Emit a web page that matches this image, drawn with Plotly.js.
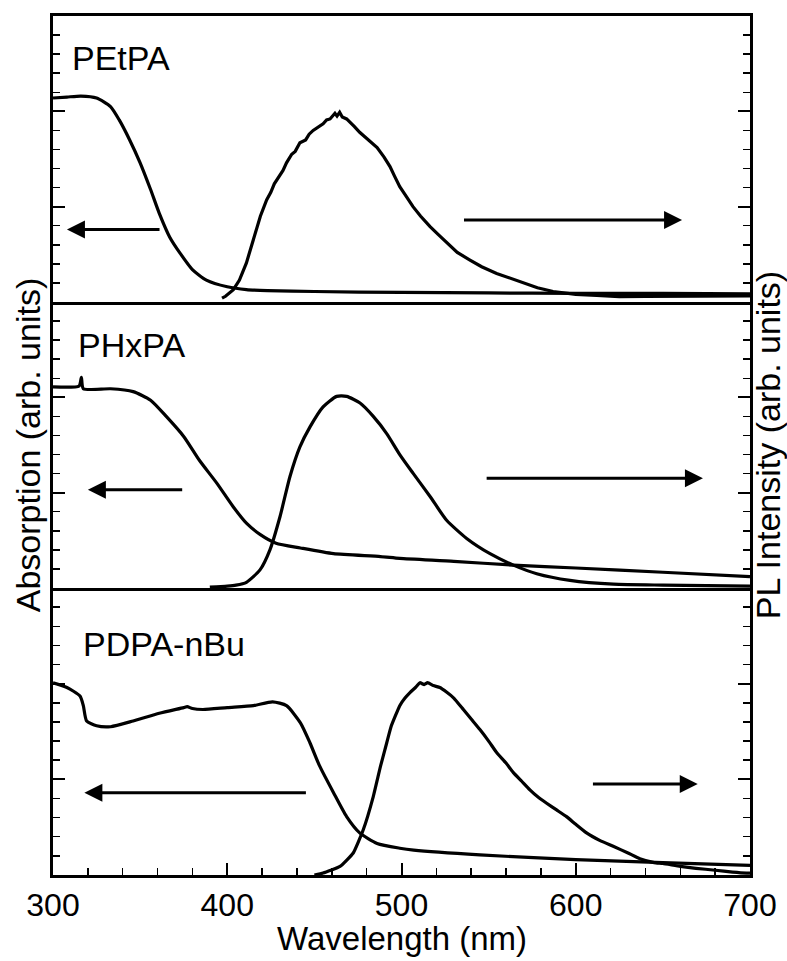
<!DOCTYPE html>
<html>
<head>
<meta charset="utf-8">
<script src="https://cdn.plot.ly/plotly-3.0.1.min.js"></script>
<style>html,body{margin:0;padding:0;background:#fff;}</style>
</head>
<body>
<div id="chart" style="width:787px;height:961px;"></div>
<script>
// ---- Data (wavelength in nm, intensity in arb. units) ----
const panelNames = ['PDPA-nBu', 'PHxPA', 'PEtPA'];
const xTitle = 'Wavelength (nm)';
const leftTitle = 'Absorption (arb. units)';
const rightTitle = 'PL Intensity (arb. units)';

const petpaAbsX = [300, 308, 316, 325, 333, 338, 344, 350, 356, 361, 367, 373, 380, 388, 400, 411, 423, 450, 500, 550, 600, 650, 700];
const petpaAbsY = [2.14, 2.15, 2.16, 2.14, 2.05, 1.91, 1.70, 1.46, 1.18, 0.93, 0.68, 0.51, 0.34, 0.23, 0.16, 0.13, 0.12, 0.11, 0.10, 0.095, 0.09, 0.09, 0.085];

const petpaPlX = [397, 399, 403.5, 407, 411, 415, 419, 422.6, 425, 427, 428.4, 431, 432, 434, 437, 439, 441.7, 445, 447, 449.3, 452, 455, 457, 459, 461.8, 463, 464.5, 466, 468.5, 471, 473, 476, 480, 483, 486, 490, 493.4, 496, 499, 503, 506.6, 511, 516.4, 521, 526, 532, 539.3, 546, 554.6, 562, 570, 578, 587, 600, 612, 625, 640, 660, 680, 700];
const petpaPlY = [0.04, 0.06, 0.13, 0.23, 0.41, 0.65, 0.90, 1.07, 1.15, 1.24, 1.28, 1.34, 1.38, 1.46, 1.55, 1.58, 1.67, 1.70, 1.76, 1.80, 1.83, 1.87, 1.91, 1.92, 1.98, 1.95, 1.99, 1.94, 1.92, 1.88, 1.84, 1.78, 1.72, 1.67, 1.62, 1.52, 1.42, 1.32, 1.21, 1.10, 1.00, 0.90, 0.79, 0.71, 0.62, 0.52, 0.44, 0.37, 0.30, 0.25, 0.20, 0.15, 0.11, 0.08, 0.07, 0.056, 0.06, 0.06, 0.065, 0.065];

const phxpaAbsX = [300, 315, 316.3, 317.4, 333, 346, 356, 365, 375, 384, 394, 403.5, 411, 419, 428, 442, 461, 488, 499, 530, 564, 600, 650, 700];
const phxpaAbsY = [2.11, 2.12, 2.21, 2.09, 2.09, 2.06, 1.97, 1.80, 1.59, 1.34, 1.10, 0.85, 0.68, 0.56, 0.47, 0.42, 0.36, 0.33, 0.31, 0.28, 0.24, 0.21, 0.165, 0.12];

const phxpaPlX = [390, 400, 405, 411, 418.8, 424.5, 430.3, 436, 441.7, 447.5, 455, 462.8, 468.5, 476.2, 483.8, 491.5, 499, 506.8, 516.4, 525.9, 537.4, 550.8, 564.2, 577.6, 596.7, 621.6, 650, 700];
const phxpaPlY = [0.01, 0.02, 0.03, 0.06, 0.19, 0.40, 0.75, 1.17, 1.48, 1.69, 1.90, 2.01, 2.01, 1.94, 1.80, 1.62, 1.40, 1.20, 0.96, 0.71, 0.52, 0.36, 0.24, 0.15, 0.08, 0.04, 0.03, 0.02];

const pdpaAbsX = [300, 308, 315.5, 317.4, 319.3, 325, 333, 346, 361, 375, 377, 380, 386, 400, 415, 426, 434, 442, 447.5, 453, 461, 468.5, 476, 486, 499, 507, 545, 600, 650, 700];
const pdpaAbsY = [2.01, 1.96, 1.87, 1.77, 1.61, 1.56, 1.55, 1.61, 1.69, 1.75, 1.76, 1.74, 1.73, 1.75, 1.77, 1.81, 1.77, 1.59, 1.38, 1.14, 0.86, 0.61, 0.44, 0.33, 0.28, 0.26, 0.21, 0.16, 0.13, 0.10];

const pdpaPlX = [450, 455, 464.7, 472.3, 478, 483.8, 488, 491.5, 494, 499, 502, 505, 508, 510.6, 513, 515, 518.3, 522, 526, 530, 535.5, 540, 545, 550, 554.6, 560, 564.2, 569, 573.7, 578, 583.3, 589, 594.7, 600, 606.2, 614, 621.5, 630, 636.8, 645, 650, 660, 669, 680, 690, 698, 700];
const pdpaPlY = [0.0, 0.02, 0.09, 0.23, 0.47, 0.82, 1.14, 1.38, 1.55, 1.77, 1.85, 1.91, 1.96, 2.01, 1.99, 2.01, 1.98, 1.96, 1.91, 1.85, 1.73, 1.63, 1.52, 1.40, 1.28, 1.17, 1.07, 0.98, 0.89, 0.82, 0.75, 0.68, 0.61, 0.53, 0.44, 0.36, 0.30, 0.23, 0.17, 0.13, 0.12, 0.09, 0.07, 0.05, 0.03, 0.02, 0.02];

// arrows: [tailX, tipX, y] per panel (bottom, middle, top)
const absArrows = [[446, 318, 0.86], [375, 320, 1.03], [362, 308, 0.76]];
const plArrows  = [[609, 670, 0.95], [548, 673, 1.15], [535, 661, 0.86]];
// panel label positions [x, y]
const labelPos = [[316, 2.41], [313, 2.55], [310, 2.56]];

// ---- Build ----
const lineStyle = {color: '#000', width: 3.2};
const traces = [
  {x: pdpaAbsX, y: pdpaAbsY, xaxis: 'x', yaxis: 'y', line: Object.assign({shape: 'spline', smoothing: 0.6}, lineStyle)},
  {x: pdpaPlX, y: pdpaPlY, xaxis: 'x', yaxis: 'y4', line: Object.assign({shape: 'spline', smoothing: 0.4}, lineStyle)},
  {x: phxpaAbsX, y: phxpaAbsY, xaxis: 'x2', yaxis: 'y2', line: Object.assign({shape: 'spline', smoothing: 0.6}, lineStyle)},
  {x: phxpaPlX, y: phxpaPlY, xaxis: 'x2', yaxis: 'y5', line: Object.assign({shape: 'spline', smoothing: 0.6}, lineStyle)},
  {x: petpaAbsX, y: petpaAbsY, xaxis: 'x3', yaxis: 'y3', line: Object.assign({shape: 'spline', smoothing: 0.6}, lineStyle)},
  {x: petpaPlX, y: petpaPlY, xaxis: 'x3', yaxis: 'y6', line: Object.assign({shape: 'linear'}, lineStyle)}
].map(t => Object.assign({type: 'scatter', mode: 'lines', hoverinfo: 'skip'}, t));

const H = 859;
const domains = [[0, 287 / H], [287 / H, 573 / H], [573 / H, 1]];
const AX = '#000';
const AXW = 3;

function yAx(i, side, overlay) {
  const a = {
    domain: domains[i], range: [0, 3], dtick: 1, tick0: 0,
    ticks: 'inside', ticklen: 12, tickwidth: 2, tickcolor: AX,
    showticklabels: false, showline: true, linewidth: AXW, linecolor: AX,
    showgrid: false, zeroline: false, fixedrange: true,
    minor: {dtick: 0.2, ticks: 'inside', ticklen: 7, tickwidth: 1.5, tickcolor: AX, showgrid: false},
    anchor: i === 0 ? 'x' : 'x' + (i + 1), side: side
  };
  if (overlay) a.overlaying = overlay;
  return a;
}
function xAx(i) {
  const a = {
    range: [300, 700], showline: true, linewidth: AXW, linecolor: AX, mirror: i === 2,
    showgrid: false, zeroline: false, fixedrange: true,
    anchor: i === 0 ? 'y' : 'y' + (i + 1)
  };
  if (i === 0) {
    Object.assign(a, {
      tick0: 300, dtick: 100, ticks: 'inside', ticklen: 12, tickwidth: 2, tickcolor: AX,
      minor: {dtick: 20, ticks: 'inside', ticklen: 7, tickwidth: 1.5, tickcolor: AX, showgrid: false},
      tickfont: {size: 32, color: '#000'}
    });
  } else {
    Object.assign(a, {matches: 'x', ticks: '', showticklabels: false});
  }
  return a;
}

const annotations = [];
for (let i = 0; i < 3; i++) {
  const xr = i === 0 ? 'x' : 'x' + (i + 1);
  const yr = i === 0 ? 'y' : 'y' + (i + 1);
  annotations.push({x: absArrows[i][1], y: absArrows[i][2], ax: absArrows[i][0], ay: absArrows[i][2],
    xref: xr, yref: yr, axref: xr, ayref: yr, text: '', showarrow: true,
    arrowhead: 2, arrowsize: 1.2, arrowwidth: 3, arrowcolor: '#000'});
  annotations.push({x: plArrows[i][1], y: plArrows[i][2], ax: plArrows[i][0], ay: plArrows[i][2],
    xref: xr, yref: yr, axref: xr, ayref: yr, text: '', showarrow: true,
    arrowhead: 2, arrowsize: 1.2, arrowwidth: 3, arrowcolor: '#000'});
  annotations.push({x: labelPos[i][0], y: labelPos[i][1], xref: xr, yref: yr, text: panelNames[i],
    showarrow: false, xanchor: 'left', yanchor: 'middle', font: {size: 34, color: '#000'}});
}
// x-axis title placed just under the tick labels
annotations.push({x: 0.5, y: -0.0745, xref: 'paper', yref: 'paper', text: xTitle, showarrow: false,
  xanchor: 'center', yanchor: 'middle', font: {size: 33, color: '#000'}});

const layout = {
  width: 787, height: 961,
  margin: {l: 53, r: 37, t: 16, b: 86},
  paper_bgcolor: '#fff', plot_bgcolor: '#fff', showlegend: false,
  font: {family: '"Liberation Sans", Arial, Helvetica, sans-serif', color: '#000'},
  xaxis: xAx(0), xaxis2: xAx(1), xaxis3: xAx(2),
  yaxis: yAx(0, 'left'), yaxis2: yAx(1, 'left'), yaxis3: yAx(2, 'left'),
  yaxis4: yAx(0, 'right', 'y'), yaxis5: yAx(1, 'right', 'y2'), yaxis6: yAx(2, 'right', 'y3'),
  annotations: annotations
};
layout.yaxis2.title = {text: leftTitle, font: {size: 34, color: '#000'}, standoff: 0};
layout.yaxis5.title = {text: rightTitle, font: {size: 34, color: '#000'}, standoff: 8};

Plotly.newPlot('chart', traces, layout, {staticPlot: true, displayModeBar: false});
</script>
</body>
</html>
